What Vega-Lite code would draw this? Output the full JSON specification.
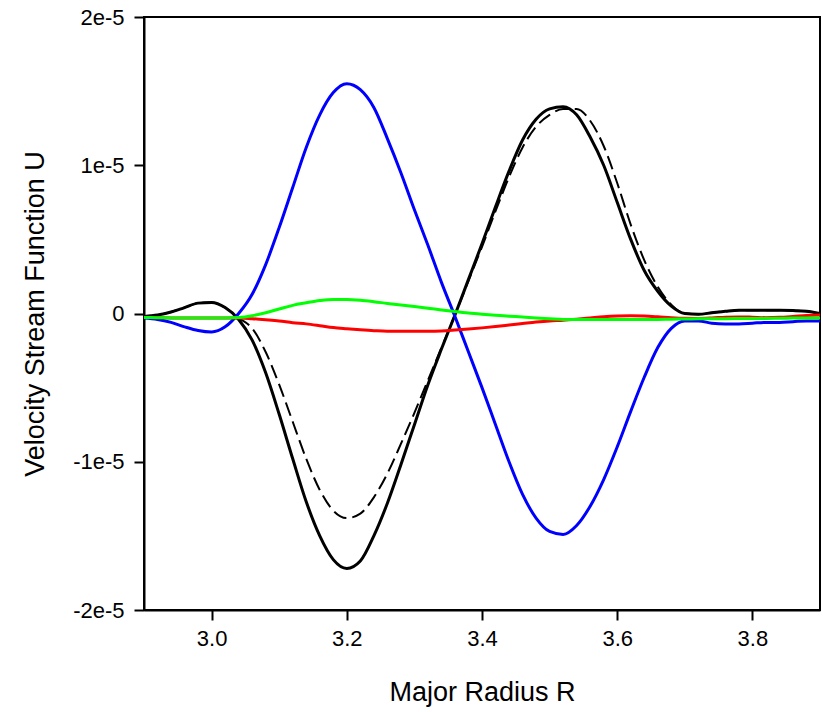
{
  "$schema": "https://vega.github.io/schema/vega-lite/v6.json",
  "width": 676,
  "height": 593,
  "autosize": {"type": "none"},
  "padding": {"left": 144, "top": 17, "right": 3, "bottom": 102},
  "config": {
    "view": {"stroke": "black", "strokeWidth": 2},
    "font": "Liberation Sans",
    "axis": {
      "grid": false,
      "domainColor": "black",
      "domainWidth": 2,
      "tickColor": "black",
      "tickWidth": 2,
      "tickSize": 10,
      "labelColor": "black",
      "titleColor": "black",
      "labelFont": "Liberation Sans",
      "titleFont": "Liberation Sans",
      "labelFontSize": 22,
      "titleFontSize": 27,
      "titleFontWeight": "normal"
    }
  },
  "data": {
    "values": [
      {"R": 2.90, "black": -0.2e-6, "dashed": -0.2e-6, "blue": -0.3e-6, "green": -0.27e-6, "red": -0.27e-6},
      {"R": 2.92, "black": -0.1e-6, "dashed": -0.1e-6, "blue": -0.4e-6, "green": -0.28e-6, "red": -0.28e-6},
      {"R": 2.94, "black": 0.1e-6, "dashed": 0.1e-6, "blue": -0.6e-6, "green": -0.3e-6, "red": -0.3e-6},
      {"R": 2.96, "black": 0.4e-6, "dashed": 0.4e-6, "blue": -0.9e-6, "green": -0.3e-6, "red": -0.3e-6},
      {"R": 2.98, "black": 0.7e-6, "dashed": 0.7e-6, "blue": -1.15e-6, "green": -0.3e-6, "red": -0.3e-6},
      {"R": 3.00, "black": 0.75e-6, "dashed": 0.75e-6, "blue": -1.25e-6, "green": -0.3e-6, "red": -0.3e-6},
      {"R": 3.02, "black": 0.4e-6, "dashed": 0.4e-6, "blue": -0.9e-6, "green": -0.3e-6, "red": -0.3e-6},
      {"R": 3.04, "black": -0.4e-6, "dashed": -0.3e-6, "blue": 0.0e-6, "green": -0.27e-6, "red": -0.3e-6},
      {"R": 3.06, "black": -1.8e-6, "dashed": -1.0e-6, "blue": 1.3e-6, "green": -0.15e-6, "red": -0.35e-6},
      {"R": 3.08, "black": -4.0e-6, "dashed": -2.6e-6, "blue": 3.3e-6, "green": 0.05e-6, "red": -0.42e-6},
      {"R": 3.10, "black": -6.8e-6, "dashed": -4.8e-6, "blue": 5.8e-6, "green": 0.3e-6, "red": -0.5e-6},
      {"R": 3.12, "black": -9.8e-6, "dashed": -7.3e-6, "blue": 8.5e-6, "green": 0.55e-6, "red": -0.62e-6},
      {"R": 3.14, "black": -12.7e-6, "dashed": -9.8e-6, "blue": 11.2e-6, "green": 0.72e-6, "red": -0.7e-6},
      {"R": 3.16, "black": -15.0e-6, "dashed": -11.9e-6, "blue": 13.4e-6, "green": 0.87e-6, "red": -0.82e-6},
      {"R": 3.18, "black": -16.6e-6, "dashed": -13.3e-6, "blue": 14.9e-6, "green": 0.95e-6, "red": -0.95e-6},
      {"R": 3.20, "black": -17.2e-6, "dashed": -13.8e-6, "blue": 15.5e-6, "green": 0.95e-6, "red": -1.03e-6},
      {"R": 3.22, "black": -16.7e-6, "dashed": -13.5e-6, "blue": 15.1e-6, "green": 0.9e-6, "red": -1.1e-6},
      {"R": 3.24, "black": -15.0e-6, "dashed": -12.4e-6, "blue": 13.9e-6, "green": 0.8e-6, "red": -1.16e-6},
      {"R": 3.26, "black": -12.8e-6, "dashed": -10.8e-6, "blue": 11.8e-6, "green": 0.68e-6, "red": -1.2e-6},
      {"R": 3.28, "black": -10.2e-6, "dashed": -8.8e-6, "blue": 9.5e-6, "green": 0.57e-6, "red": -1.2e-6},
      {"R": 3.30, "black": -7.5e-6, "dashed": -6.7e-6, "blue": 7.0e-6, "green": 0.47e-6, "red": -1.2e-6},
      {"R": 3.32, "black": -4.8e-6, "dashed": -4.5e-6, "blue": 4.6e-6, "green": 0.36e-6, "red": -1.2e-6},
      {"R": 3.34, "black": -2.4e-6, "dashed": -2.3e-6, "blue": 2.1e-6, "green": 0.24e-6, "red": -1.18e-6},
      {"R": 3.36, "black": -0.1e-6, "dashed": -0.1e-6, "blue": -0.2e-6, "green": 0.13e-6, "red": -1.12e-6},
      {"R": 3.38, "black": 2.3e-6, "dashed": 2.2e-6, "blue": -2.6e-6, "green": 0.03e-6, "red": -1.05e-6},
      {"R": 3.40, "black": 4.7e-6, "dashed": 4.5e-6, "blue": -5.0e-6, "green": -0.05e-6, "red": -0.97e-6},
      {"R": 3.42, "black": 7.2e-6, "dashed": 6.9e-6, "blue": -7.5e-6, "green": -0.12e-6, "red": -0.88e-6},
      {"R": 3.44, "black": 9.6e-6, "dashed": 9.2e-6, "blue": -10.0e-6, "green": -0.18e-6, "red": -0.78e-6},
      {"R": 3.46, "black": 11.7e-6, "dashed": 11.2e-6, "blue": -12.2e-6, "green": -0.24e-6, "red": -0.68e-6},
      {"R": 3.48, "black": 13.1e-6, "dashed": 12.6e-6, "blue": -13.8e-6, "green": -0.3e-6, "red": -0.58e-6},
      {"R": 3.50, "black": 13.8e-6, "dashed": 13.4e-6, "blue": -14.7e-6, "green": -0.35e-6, "red": -0.5e-6},
      {"R": 3.52, "black": 13.95e-6, "dashed": 13.8e-6, "blue": -14.9e-6, "green": -0.4e-6, "red": -0.45e-6},
      {"R": 3.54, "black": 13.4e-6, "dashed": 13.8e-6, "blue": -14.3e-6, "green": -0.4e-6, "red": -0.38e-6},
      {"R": 3.56, "black": 11.9e-6, "dashed": 13.0e-6, "blue": -13.0e-6, "green": -0.4e-6, "red": -0.3e-6},
      {"R": 3.58, "black": 10.0e-6, "dashed": 11.3e-6, "blue": -11.2e-6, "green": -0.4e-6, "red": -0.22e-6},
      {"R": 3.60, "black": 7.5e-6, "dashed": 8.8e-6, "blue": -9.0e-6, "green": -0.4e-6, "red": -0.17e-6},
      {"R": 3.62, "black": 5.0e-6, "dashed": 6.0e-6, "blue": -6.6e-6, "green": -0.4e-6, "red": -0.15e-6},
      {"R": 3.64, "black": 2.9e-6, "dashed": 3.6e-6, "blue": -4.3e-6, "green": -0.4e-6, "red": -0.17e-6},
      {"R": 3.66, "black": 1.5e-6, "dashed": 1.8e-6, "blue": -2.3e-6, "green": -0.4e-6, "red": -0.22e-6},
      {"R": 3.68, "black": 0.5e-6, "dashed": 0.6e-6, "blue": -1.0e-6, "green": -0.38e-6, "red": -0.28e-6},
      {"R": 3.70, "black": 0.0e-6, "dashed": 0.0e-6, "blue": -0.5e-6, "green": -0.37e-6, "red": -0.32e-6},
      {"R": 3.72, "black": -0.05e-6, "dashed": -0.05e-6, "blue": -0.5e-6, "green": -0.36e-6, "red": -0.33e-6},
      {"R": 3.74, "black": 0.05e-6, "dashed": 0.05e-6, "blue": -0.65e-6, "green": -0.35e-6, "red": -0.3e-6},
      {"R": 3.76, "black": 0.15e-6, "dashed": 0.15e-6, "blue": -0.7e-6, "green": -0.35e-6, "red": -0.25e-6},
      {"R": 3.78, "black": 0.22e-6, "dashed": 0.22e-6, "blue": -0.7e-6, "green": -0.34e-6, "red": -0.23e-6},
      {"R": 3.80, "black": 0.22e-6, "dashed": 0.22e-6, "blue": -0.65e-6, "green": -0.33e-6, "red": -0.25e-6},
      {"R": 3.82, "black": 0.22e-6, "dashed": 0.22e-6, "blue": -0.6e-6, "green": -0.33e-6, "red": -0.28e-6},
      {"R": 3.84, "black": 0.22e-6, "dashed": 0.22e-6, "blue": -0.6e-6, "green": -0.32e-6, "red": -0.26e-6},
      {"R": 3.86, "black": 0.2e-6, "dashed": 0.2e-6, "blue": -0.55e-6, "green": -0.31e-6, "red": -0.2e-6},
      {"R": 3.88, "black": 0.15e-6, "dashed": 0.15e-6, "blue": -0.5e-6, "green": -0.3e-6, "red": -0.13e-6},
      {"R": 3.90, "black": 0.0e-6, "dashed": 0.0e-6, "blue": -0.5e-6, "green": -0.3e-6, "red": -0.1e-6}
    ]
  },
  "transform": [
    {"fold": ["dashed", "black", "blue", "red", "green"], "as": ["series", "U"]}
  ],
  "encoding": {
    "x": {
      "field": "R",
      "type": "quantitative",
      "scale": {"domain": [2.9, 3.9], "nice": false, "zero": false},
      "axis": {
        "values": [3.0, 3.2, 3.4, 3.6, 3.8],
        "format": ".1f",
        "title": "Major Radius R",
        "labelPadding": 8,
        "titleY": 82,
        "titleBaseline": "middle"
      }
    },
    "y": {
      "field": "U",
      "type": "quantitative",
      "scale": {"domain": [-2e-5, 2e-5], "nice": false, "zero": false},
      "axis": {
        "values": [-2e-5, -1e-5, 0, 1e-5, 2e-5],
        "labelExpr": "datum.value == 0 ? '0' : round(datum.value / 1e-5) + 'e-5'",
        "title": "Velocity Stream Function U",
        "labelPadding": 10,
        "titleX": -109,
        "titleBaseline": "middle"
      }
    }
  },
  "layer": [
    {
      "transform": [{"filter": "datum.series == 'dashed'"}],
      "mark": {"type": "line", "color": "black", "strokeWidth": 2, "strokeDash": [14, 6], "interpolate": "monotone", "clip": true}
    },
    {
      "transform": [{"filter": "datum.series == 'black'"}],
      "mark": {"type": "line", "color": "black", "strokeWidth": 3, "interpolate": "monotone", "clip": true}
    },
    {
      "transform": [{"filter": "datum.series == 'blue'"}],
      "mark": {"type": "line", "color": "#0000ff", "strokeWidth": 3, "interpolate": "monotone", "clip": true}
    },
    {
      "transform": [{"filter": "datum.series == 'red'"}],
      "mark": {"type": "line", "color": "#ff0000", "strokeWidth": 3, "interpolate": "monotone", "clip": true}
    },
    {
      "transform": [{"filter": "datum.series == 'green'"}],
      "mark": {"type": "line", "color": "#00ff00", "strokeWidth": 3, "interpolate": "monotone", "clip": true}
    }
  ]
}
